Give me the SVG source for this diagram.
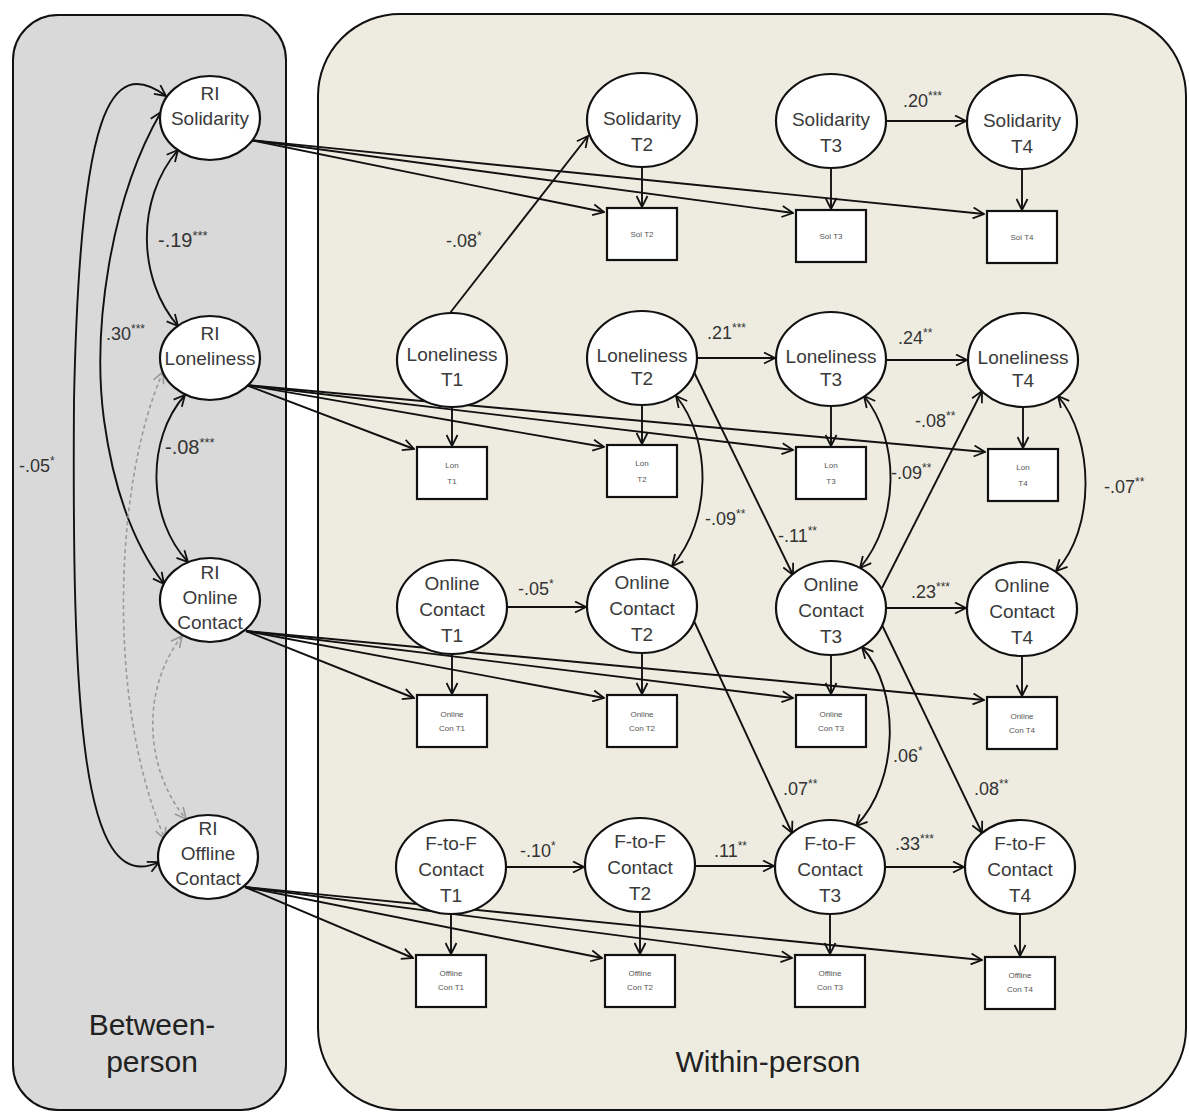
<svg xmlns="http://www.w3.org/2000/svg" width="1189" height="1112" viewBox="0 0 1189 1112">
<defs>
<marker id="ah" viewBox="0 0 13 13" refX="12" refY="6.5" markerWidth="13" markerHeight="13" markerUnits="userSpaceOnUse" orient="auto-start-reverse"><path d="M1,1 L12,6.5 L1,12" fill="none" stroke="#111" stroke-width="1.8"/></marker>
<marker id="ahg" viewBox="0 0 13 13" refX="12" refY="6.5" markerWidth="13" markerHeight="13" markerUnits="userSpaceOnUse" orient="auto-start-reverse"><path d="M1,1 L12,6.5 L1,12" fill="none" stroke="#999" stroke-width="1.6"/></marker>
</defs>
<style>
.pb{fill:#d9d9d9;stroke:#111;stroke-width:2}
.pw{fill:#eeece1;stroke:#111;stroke-width:2}
.c{fill:none;stroke:#111;stroke-width:1.9;marker-end:url(#ah)}
.bi{fill:none;stroke:#111;stroke-width:1.9;marker-start:url(#ah);marker-end:url(#ah)}
.ds{fill:none;stroke:#9a9a9a;stroke-width:1.6;stroke-dasharray:4 3;marker-start:url(#ahg);marker-end:url(#ahg)}
.node ellipse{fill:#fff;stroke:#111;stroke-width:2.2}
.node rect{fill:#fff;stroke:#111;stroke-width:2.2}
text{font-family:"Liberation Sans",Arial,sans-serif}
.t{font-size:19px;fill:#3a3a3a;text-anchor:middle}
.bt{font-size:8px;fill:#555;text-anchor:middle}
.lab{font-size:18px;fill:#333}
.lab .st{font-size:12px}
.lb{font-size:20px;fill:#333}
.lb .st{font-size:13px}
.big{font-size:30px;fill:#222;text-anchor:middle}
</style>

<g id="panels">
<rect id="between-panel" class="pb" x="13" y="15" width="273" height="1095" rx="45"/>
<rect id="within-panel" class="pw" x="318" y="14" width="868" height="1096" rx="82"/>
<text class="big" x="152" y="1035">Between-</text>
<text class="big" x="152" y="1072">person</text>
<text class="big" x="768" y="1072">Within-person</text>
</g>

<g id="connectors">
<path class="bi" d="M166,96 C110,55 80,110 74,400 C72,700 80,900 159,862"/>
<path class="bi" d="M161,112 C110,200 92,330 104,420 C115,500 138,550 164,584"/>
<path class="bi" d="M178,150 C135,200 138,280 178,326"/>
<path class="bi" d="M185,395 C145,440 148,520 188,562"/>
<path class="ds" d="M163,372 C115,480 105,700 165,839"/>
<path class="ds" d="M182,636 C140,690 145,770 186,819"/>
<path class="c" d="M250,140 L604,212"/>
<path class="c" d="M250,140 L793,213"/>
<path class="c" d="M250,140 L984,214"/>
<path class="c" d="M246,385 L414,449"/>
<path class="c" d="M246,385 L604,447"/>
<path class="c" d="M246,385 L793,450"/>
<path class="c" d="M246,385 L985,452"/>
<path class="c" d="M246,631 L414,698"/>
<path class="c" d="M246,631 L604,698"/>
<path class="c" d="M246,631 L793,698"/>
<path class="c" d="M246,631 L984,700"/>
<path class="c" d="M245,887 L413,958"/>
<path class="c" d="M245,887 L602,958"/>
<path class="c" d="M245,887 L792,958"/>
<path class="c" d="M245,887 L982,960"/>
<path class="c" d="M642,167 L642,207"/>
<path class="c" d="M831,168 L831,209"/>
<path class="c" d="M1022,169 L1022,210"/>
<path class="c" d="M452,407 L452,446"/>
<path class="c" d="M642,405 L642,444"/>
<path class="c" d="M831,406 L831,446"/>
<path class="c" d="M1023,407 L1023,448"/>
<path class="c" d="M452,654 L452,694"/>
<path class="c" d="M642,653 L642,694"/>
<path class="c" d="M831,655 L831,694"/>
<path class="c" d="M1022,656 L1022,696"/>
<path class="c" d="M451,914 L451,954"/>
<path class="c" d="M640,912 L640,954"/>
<path class="c" d="M830,914 L830,954"/>
<path class="c" d="M1020,914 L1020,956"/>
<path class="c" d="M886,121 L966,121"/>
<path class="c" d="M697,358 L775,358"/>
<path class="c" d="M886,360 L967,360"/>
<path class="c" d="M507,607 L586,607"/>
<path class="c" d="M886,608 L966,608"/>
<path class="c" d="M506,867 L584,867"/>
<path class="c" d="M695,866 L774,866"/>
<path class="c" d="M885,867 L964,867"/>
<path class="c" d="M450,313 L588,136"/>
<path class="c" d="M694,372 L793,575"/>
<path class="c" d="M882,588 L982,391"/>
<path class="c" d="M694,621 L792,833"/>
<path class="c" d="M882,625 L982,833"/>
<path class="bi" d="M676,396 C712,440 712,520 672,566"/>
<path class="bi" d="M864,396 C900,440 900,520 860,568"/>
<path class="bi" d="M1058,396 C1095,440 1095,530 1056,571"/>
<path class="bi" d="M862,647 C900,690 900,780 856,826"/>
</g>

<g id="labels">
<text class="lb" x="158" y="247">-.19<tspan class="st" dy="-7">***</tspan></text>
<text class="lab" x="106" y="340">.30<tspan class="st" dy="-7">***</tspan></text>
<text class="lb" x="165" y="454">-.08<tspan class="st" dy="-7">***</tspan></text>
<text class="lab" x="19" y="472">-.05<tspan class="st" dy="-7">*</tspan></text>
<text class="lab" x="446" y="247">-.08<tspan class="st" dy="-7">*</tspan></text>
<text class="lab" x="903" y="107">.20<tspan class="st" dy="-7">***</tspan></text>
<text class="lab" x="707" y="339">.21<tspan class="st" dy="-7">***</tspan></text>
<text class="lab" x="898" y="344">.24<tspan class="st" dy="-7">**</tspan></text>
<text class="lab" x="915" y="427">-.08<tspan class="st" dy="-7">**</tspan></text>
<text class="lab" x="891" y="479">-.09<tspan class="st" dy="-7">**</tspan></text>
<text class="lab" x="1104" y="493">-.07<tspan class="st" dy="-7">**</tspan></text>
<text class="lab" x="705" y="525">-.09<tspan class="st" dy="-7">**</tspan></text>
<text class="lab" x="778" y="542">-.11<tspan class="st" dy="-7">**</tspan></text>
<text class="lab" x="518" y="595">-.05<tspan class="st" dy="-7">*</tspan></text>
<text class="lab" x="911" y="598">.23<tspan class="st" dy="-7">***</tspan></text>
<text class="lab" x="893" y="762">.06<tspan class="st" dy="-7">*</tspan></text>
<text class="lab" x="783" y="795">.07<tspan class="st" dy="-7">**</tspan></text>
<text class="lab" x="974" y="795">.08<tspan class="st" dy="-7">**</tspan></text>
<text class="lab" x="520" y="857">-.10<tspan class="st" dy="-7">*</tspan></text>
<text class="lab" x="714" y="857">.11<tspan class="st" dy="-7">**</tspan></text>
<text class="lab" x="895" y="850">.33<tspan class="st" dy="-7">***</tspan></text>
</g>

<g id="ri-solidarity" class="node"><ellipse cx="210" cy="118" rx="50" ry="42"/><text class="t" x="210" y="100">RI</text><text class="t" x="210" y="125">Solidarity</text></g>
<g id="ri-loneliness" class="node"><ellipse cx="210" cy="358" rx="50" ry="42"/><text class="t" x="210" y="340">RI</text><text class="t" x="210" y="365">Loneliness</text></g>
<g id="ri-online" class="node"><ellipse cx="210" cy="600" rx="50" ry="42"/><text class="t" x="210" y="579">RI</text><text class="t" x="210" y="604">Online</text><text class="t" x="210" y="629">Contact</text></g>
<g id="ri-offline" class="node"><ellipse cx="208" cy="857" rx="50" ry="42"/><text class="t" x="208" y="835">RI</text><text class="t" x="208" y="860">Offline</text><text class="t" x="208" y="885">Contact</text></g>

<g id="solidarity-t2" class="node"><ellipse cx="642" cy="120" rx="55" ry="47"/><text class="t" x="642" y="125">Solidarity</text><text class="t" x="642" y="151">T2</text></g>
<g id="solidarity-t3" class="node"><ellipse cx="831" cy="121" rx="55" ry="47"/><text class="t" x="831" y="126">Solidarity</text><text class="t" x="831" y="152">T3</text></g>
<g id="solidarity-t4" class="node"><ellipse cx="1022" cy="122" rx="55" ry="47"/><text class="t" x="1022" y="127">Solidarity</text><text class="t" x="1022" y="153">T4</text></g>

<g id="loneliness-t1" class="node"><ellipse cx="452" cy="360" rx="55" ry="47"/><text class="t" x="452" y="361">Loneliness</text><text class="t" x="452" y="386">T1</text></g>
<g id="loneliness-t2" class="node"><ellipse cx="642" cy="358" rx="55" ry="47"/><text class="t" x="642" y="362">Loneliness</text><text class="t" x="642" y="385">T2</text></g>
<g id="loneliness-t3" class="node"><ellipse cx="831" cy="359" rx="55" ry="47"/><text class="t" x="831" y="363">Loneliness</text><text class="t" x="831" y="386">T3</text></g>
<g id="loneliness-t4" class="node"><ellipse cx="1023" cy="360" rx="55" ry="47"/><text class="t" x="1023" y="364">Loneliness</text><text class="t" x="1023" y="387">T4</text></g>

<g id="online-t1" class="node"><ellipse cx="452" cy="607" rx="55" ry="47"/><text class="t" x="452" y="590">Online</text><text class="t" x="452" y="616">Contact</text><text class="t" x="452" y="642">T1</text></g>
<g id="online-t2" class="node"><ellipse cx="642" cy="606" rx="55" ry="47"/><text class="t" x="642" y="589">Online</text><text class="t" x="642" y="615">Contact</text><text class="t" x="642" y="641">T2</text></g>
<g id="online-t3" class="node"><ellipse cx="831" cy="608" rx="55" ry="47"/><text class="t" x="831" y="591">Online</text><text class="t" x="831" y="617">Contact</text><text class="t" x="831" y="643">T3</text></g>
<g id="online-t4" class="node"><ellipse cx="1022" cy="609" rx="55" ry="47"/><text class="t" x="1022" y="592">Online</text><text class="t" x="1022" y="618">Contact</text><text class="t" x="1022" y="644">T4</text></g>

<g id="ftof-t1" class="node"><ellipse cx="451" cy="867" rx="55" ry="47"/><text class="t" x="451" y="850">F-to-F</text><text class="t" x="451" y="876">Contact</text><text class="t" x="451" y="902">T1</text></g>
<g id="ftof-t2" class="node"><ellipse cx="640" cy="865" rx="55" ry="47"/><text class="t" x="640" y="848">F-to-F</text><text class="t" x="640" y="874">Contact</text><text class="t" x="640" y="900">T2</text></g>
<g id="ftof-t3" class="node"><ellipse cx="830" cy="867" rx="55" ry="47"/><text class="t" x="830" y="850">F-to-F</text><text class="t" x="830" y="876">Contact</text><text class="t" x="830" y="902">T3</text></g>
<g id="ftof-t4" class="node"><ellipse cx="1020" cy="867" rx="55" ry="47"/><text class="t" x="1020" y="850">F-to-F</text><text class="t" x="1020" y="876">Contact</text><text class="t" x="1020" y="902">T4</text></g>

<g id="sol-t2-box" class="node"><rect x="607" y="208" width="70" height="52"/><text class="bt" x="642" y="237">Sol T2</text></g>
<g id="sol-t3-box" class="node"><rect x="796" y="210" width="70" height="52"/><text class="bt" x="831" y="239">Sol T3</text></g>
<g id="sol-t4-box" class="node"><rect x="987" y="211" width="70" height="52"/><text class="bt" x="1022" y="240">Sol T4</text></g>

<g id="lon-t1-box" class="node"><rect x="417" y="447" width="70" height="52"/><text class="bt" x="452" y="468">Lon</text><text class="bt" x="452" y="484">T1</text></g>
<g id="lon-t2-box" class="node"><rect x="607" y="445" width="70" height="52"/><text class="bt" x="642" y="466">Lon</text><text class="bt" x="642" y="482">T2</text></g>
<g id="lon-t3-box" class="node"><rect x="796" y="447" width="70" height="52"/><text class="bt" x="831" y="468">Lon</text><text class="bt" x="831" y="484">T3</text></g>
<g id="lon-t4-box" class="node"><rect x="988" y="449" width="70" height="52"/><text class="bt" x="1023" y="470">Lon</text><text class="bt" x="1023" y="486">T4</text></g>

<g id="onl-t1-box" class="node"><rect x="417" y="695" width="70" height="52"/><text class="bt" x="452" y="717">Online</text><text class="bt" x="452" y="731">Con T1</text></g>
<g id="onl-t2-box" class="node"><rect x="607" y="695" width="70" height="52"/><text class="bt" x="642" y="717">Online</text><text class="bt" x="642" y="731">Con T2</text></g>
<g id="onl-t3-box" class="node"><rect x="796" y="695" width="70" height="52"/><text class="bt" x="831" y="717">Online</text><text class="bt" x="831" y="731">Con T3</text></g>
<g id="onl-t4-box" class="node"><rect x="987" y="697" width="70" height="52"/><text class="bt" x="1022" y="719">Online</text><text class="bt" x="1022" y="733">Con T4</text></g>

<g id="off-t1-box" class="node"><rect x="416" y="955" width="70" height="52"/><text class="bt" x="451" y="976">Offline</text><text class="bt" x="451" y="990">Con T1</text></g>
<g id="off-t2-box" class="node"><rect x="605" y="955" width="70" height="52"/><text class="bt" x="640" y="976">Offline</text><text class="bt" x="640" y="990">Con T2</text></g>
<g id="off-t3-box" class="node"><rect x="795" y="955" width="70" height="52"/><text class="bt" x="830" y="976">Offline</text><text class="bt" x="830" y="990">Con T3</text></g>
<g id="off-t4-box" class="node"><rect x="985" y="957" width="70" height="52"/><text class="bt" x="1020" y="978">Offline</text><text class="bt" x="1020" y="992">Con T4</text></g>
</svg>
